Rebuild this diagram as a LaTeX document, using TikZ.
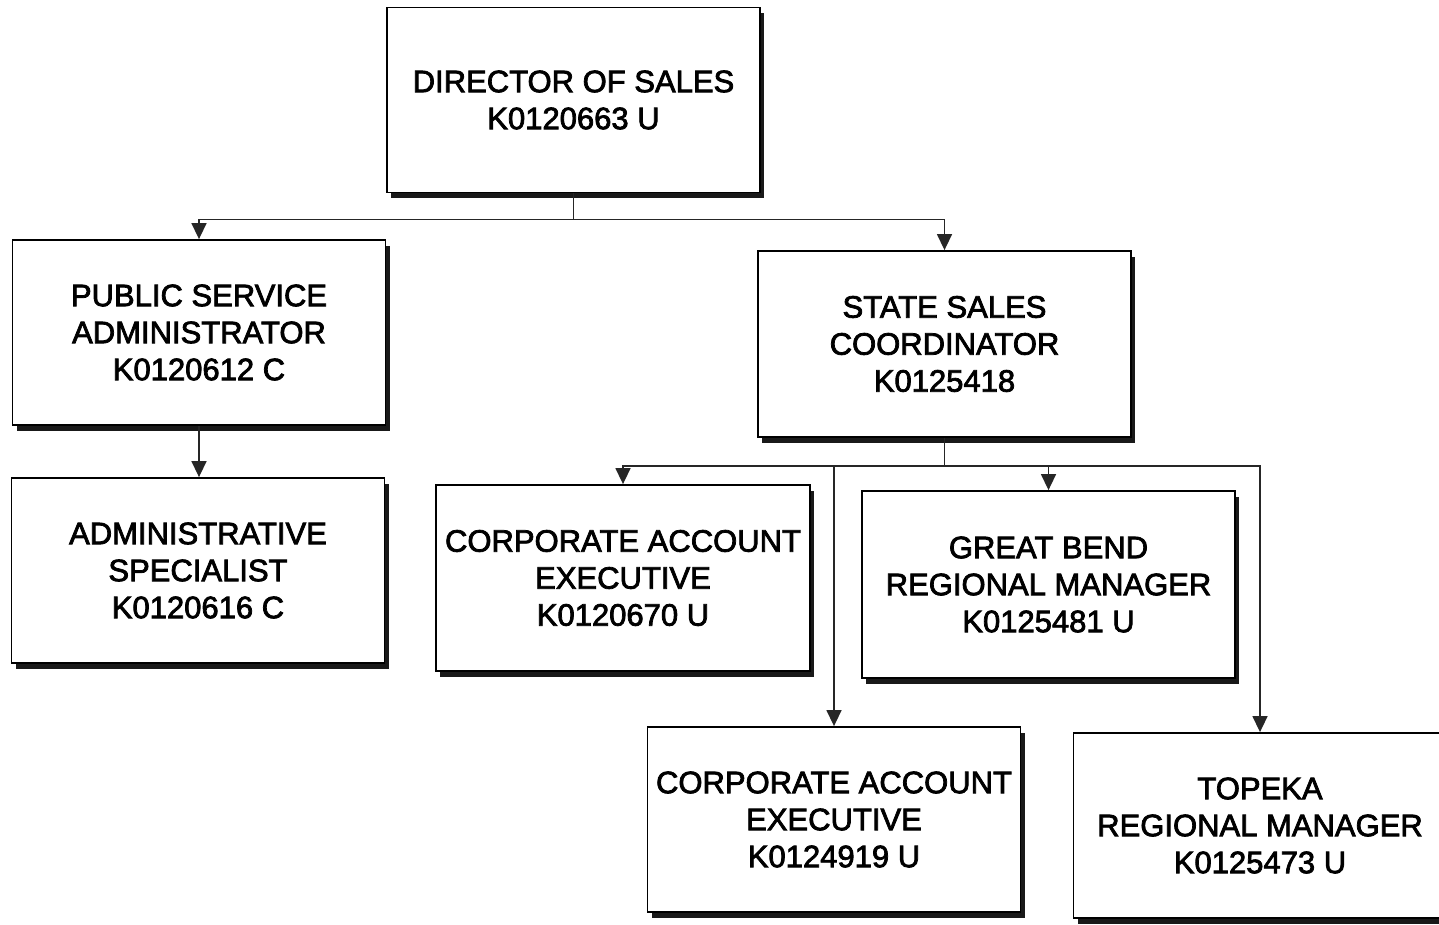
\documentclass[tikz,border=0pt]{standalone}
\usepackage{fontspec}
\setmainfont{Liberation Sans}
\newfontfamily\boxfont{Liberation Sans}[FakeBold=2.4]
\usetikzlibrary{arrows.meta}
\tikzset{
  orgbox/.style={draw=black, line width=1.8pt, fill=white, align=center,
    minimum width=373pt, minimum height=185pt, inner sep=0pt,
    font=\boxfont\fontsize{31}{37}\selectfont,
    preaction={fill=black!90, transform canvas={shift={(4pt,-6pt)}}}},
  conn/.style={line width=1.5pt, draw=black!85},
  arr/.style={conn, -{Triangle[length=16pt,width=15pt]}}
}
\begin{document}
\begin{tikzpicture}[x=1pt,y=-1pt]
\useasboundingbox (0,0) rectangle (1439,925);
\clip (0,0) rectangle (1439,925);
\node[orgbox] (dir) at (573.5,100) {DIRECTOR OF SALES\\K0120663 U};
\node[orgbox] (psa) at (199,332.5) {PUBLIC SERVICE\\ADMINISTRATOR\\K0120612 C};
\node[orgbox, minimum height=186pt] (ssc) at (944.5,344) {STATE SALES\\COORDINATOR\\K0125418};
\node[orgbox] (as) at (198,570.5) {ADMINISTRATIVE\\SPECIALIST\\K0120616 C};
\node[orgbox, minimum width=374pt, minimum height=186pt] (ca1) at (623,578) {CORPORATE ACCOUNT\\EXECUTIVE\\K0120670 U};
\node[orgbox, minimum height=187pt] (gb) at (1048.5,584.5) {GREAT BEND\\REGIONAL MANAGER\\K0125481 U};
\node[orgbox] (ca2) at (834,819.5) {CORPORATE ACCOUNT\\EXECUTIVE\\K0124919 U};
\node[orgbox] (top) at (1260,825.5) {TOPEKA\\REGIONAL MANAGER\\K0125473 U};

\draw[conn] (dir.south) -- ++(0,26) coordinate (j1);
\draw[arr] (j1) -| (psa.north);
\draw[arr] (j1) -| (ssc.north);
\draw[arr] (psa.south) -- (psa.south |- as.north);
\draw[conn] (ssc.south) -- ++(0,28) coordinate (j2);
\draw[arr] (j2) -| (ca1.north);
\draw[arr] (j2) -| (gb.north);
\draw[arr] (j2) -| (ca2.north);
\draw[arr] (j2) -| (top.north);
\end{tikzpicture}
\end{document}
